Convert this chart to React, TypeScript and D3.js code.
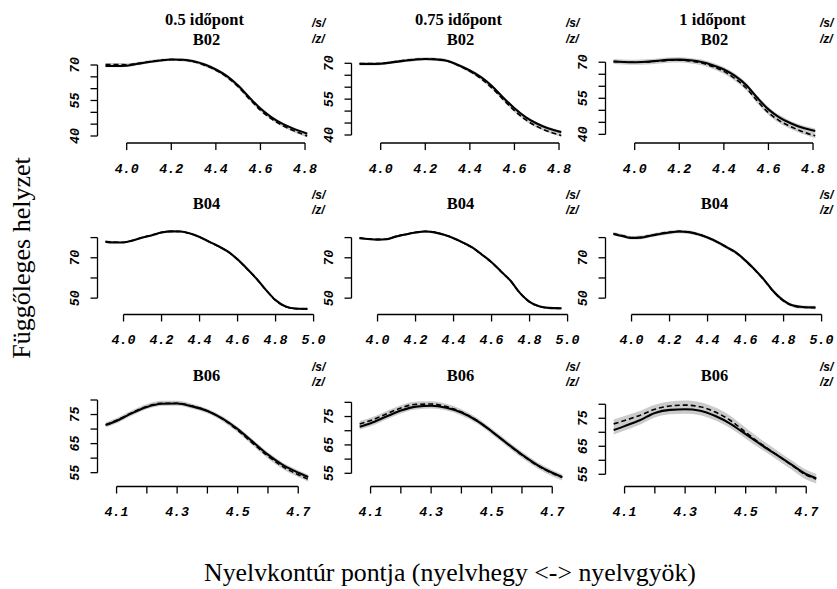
import React from 'react';
import * as d3 from 'd3';

// ---------- text ----------
const timeLabels = ['0.5 időpont', '0.75 időpont', '1 időpont'];
const speakerLabels = ['B02', 'B04', 'B06'];
const legendLabels = ['/s/', '/z/'];
const yTitle = 'Függőleges helyzet';
const xTitle = 'Nyelvkontúr pontja (nyelvhegy <-> nyelvgyök)';

// ---------- B02 ----------
const xB02 = [3.905, 3.95, 4.0, 4.05, 4.1, 4.15, 4.2, 4.25, 4.3, 4.35, 4.4, 4.45, 4.5, 4.55, 4.6, 4.65, 4.7, 4.75, 4.81];
const sB02_05 = [69.6, 69.6, 69.7, 70.5, 71.3, 71.9, 72.3, 72.2, 71.6, 70.2, 68.1, 65.3, 61.3, 56.3, 51.6, 47.9, 45.1, 43.0, 41.0];
const zB02_05 = [70.2, 70.2, 70.1, 70.7, 71.4, 72.0, 72.3, 72.1, 71.4, 69.9, 67.8, 64.9, 60.8, 55.7, 50.9, 47.2, 44.4, 42.2, 40.0];
const sB02_075 = [69.7, 69.7, 69.8, 70.4, 71.0, 71.5, 71.8, 71.6, 71.0, 69.2, 67.0, 64.2, 60.4, 55.6, 51.2, 47.5, 44.8, 42.8, 41.2];
const zB02_075 = [69.9, 69.9, 69.9, 70.5, 71.1, 71.6, 71.9, 71.7, 71.0, 69.0, 66.6, 63.6, 59.6, 54.8, 50.2, 46.4, 43.6, 41.6, 39.8];
const sB02_1 = [70.3, 70.1, 70.0, 70.2, 70.6, 71.0, 71.1, 70.8, 70.1, 68.8, 67.0, 64.3, 60.5, 55.2, 50.4, 47.0, 44.6, 42.8, 41.4];
const zB02_1 = [70.3, 70.1, 70.0, 70.1, 70.4, 70.8, 70.9, 70.5, 69.7, 68.2, 66.2, 63.2, 59.3, 53.9, 49.0, 45.6, 43.2, 41.2, 39.4];

// ---------- B04 ----------
const xB04 = [3.905, 3.95, 4.0, 4.05, 4.1, 4.15, 4.2, 4.25, 4.3, 4.35, 4.4, 4.45, 4.5, 4.55, 4.6, 4.65, 4.7, 4.75, 4.8, 4.85, 4.9, 4.968];
const sB04_05 = [77.9, 77.6, 77.6, 78.6, 80.0, 81.2, 82.5, 83.1, 83.0, 82.0, 80.3, 78.0, 75.7, 73.0, 69.2, 64.6, 59.6, 54.0, 49.0, 46.0, 44.9, 44.7];
const zB04_05 = [78.1, 77.8, 77.7, 78.7, 80.1, 81.3, 82.6, 83.1, 83.0, 82.0, 80.3, 77.9, 75.6, 72.9, 69.1, 64.5, 59.5, 53.9, 48.9, 45.9, 44.9, 44.7];
const sB04_075 = [79.7, 79.3, 79.0, 79.2, 80.6, 81.6, 82.5, 83.0, 82.6, 81.4, 79.7, 77.5, 75.0, 71.5, 67.8, 63.2, 58.6, 52.5, 48.2, 46.0, 45.2, 45.0];
const zB04_075 = [79.9, 79.4, 79.1, 79.3, 80.7, 81.7, 82.6, 83.1, 82.7, 81.4, 79.7, 77.4, 74.9, 71.4, 67.7, 63.1, 58.5, 52.4, 48.1, 45.9, 45.1, 44.9];
const sB04_1 = [81.8, 80.8, 79.8, 80.0, 80.9, 81.8, 82.5, 83.0, 82.7, 81.6, 80.0, 77.9, 75.3, 72.6, 68.6, 64.0, 58.8, 53.0, 48.8, 46.3, 45.6, 45.4];
const zB04_1 = [82.0, 81.0, 80.0, 80.2, 81.1, 82.0, 82.7, 83.1, 82.8, 81.7, 80.0, 77.8, 75.2, 72.4, 68.4, 63.8, 58.6, 52.8, 48.6, 46.2, 45.5, 45.3];

// ---------- B06 ----------
const xB06 = [4.064, 4.1, 4.15, 4.2, 4.25, 4.3, 4.35, 4.4, 4.45, 4.5, 4.55, 4.6, 4.65, 4.7, 4.733];
const sB06_05 = [71.4, 72.8, 75.4, 77.6, 78.7, 78.8, 77.8, 76.2, 73.6, 70.0, 65.6, 61.2, 57.6, 55.0, 53.5];
const zB06_05 = [71.5, 73.0, 75.6, 77.8, 78.9, 78.9, 77.9, 76.2, 73.4, 69.6, 65.1, 60.7, 57.0, 54.3, 52.7];
const sB06_075 = [71.4, 72.6, 74.9, 77.1, 78.5, 78.8, 78.1, 76.4, 73.6, 69.8, 65.6, 61.6, 58.0, 55.2, 53.7];
const zB06_075 = [72.4, 73.6, 75.8, 78.0, 79.3, 79.4, 78.5, 76.6, 73.7, 69.8, 65.5, 61.4, 57.8, 55.0, 53.5];
const sB06_1 = [70.8, 72.2, 74.3, 76.9, 78.0, 78.2, 77.7, 75.8, 73.0, 69.3, 65.6, 62.1, 58.5, 55.0, 53.6];
const zB06_1 = [73.0, 74.2, 76.0, 78.2, 79.4, 79.7, 79.1, 77.2, 74.2, 70.0, 65.9, 62.2, 58.4, 54.7, 53.3];

// confidence band half-widths per time point
const bandB02 = [0.6, 0.6, 1.0];
const bandB04 = [0.4, 0.4, 0.8];
const bandB06 = [0.8, 1.0, 1.6];

// axis limits
const xlimB02 = [3.869, 4.847];
const xlimB04 = [3.863, 5.01];
const xlimB06 = [4.037, 4.757];
const ylimB02 = [[37.04, 73.8], [36.65, 73.05], [36.4, 72.6]];
const ylimB04 = [[41.9, 85.0], [41.9, 85.0], [41.9, 85.0]];
const ylimB06 = [[50.25, 80.17], [50.35, 81.0], [50.64, 81.7]];

// ticks
const xTicksB02 = [4.0, 4.2, 4.4, 4.6, 4.8];
const xLabelsB02 = [4.0, 4.2, 4.4, 4.6, 4.8];
const xTicksB04 = [4.0, 4.2, 4.4, 4.6, 4.8, 5.0];
const xLabelsB04 = [4.0, 4.2, 4.4, 4.6, 4.8, 5.0];
const xTicksB06 = [4.1, 4.2, 4.3, 4.4, 4.5, 4.6, 4.7];
const xLabelsB06 = [4.1, 4.3, 4.5, 4.7];
const yTicksB02 = [40, 45, 50, 55, 60, 65, 70];
const yLabelsB02 = [40, 55, 70];
const yTicksB04 = [50, 60, 70, 80];
const yLabelsB04 = [50, 70];
const yTicksB06 = [55, 60, 65, 70, 75, 80];
const yLabelsB06 = [55, 65, 75];

// ---------- layout ----------
const W = 837;
const H = 589;
const colLeft = [97.5, 351.5, 605.5];
const plotW = 218;
const rowBottom = [143, 314.5, 486.5];
const plotH = 87;

const rows = [
  { x: xB02, s: [sB02_05, sB02_075, sB02_1], z: [zB02_05, zB02_075, zB02_1], band: bandB02, xlim: xlimB02, ylim: ylimB02, xt: xTicksB02, xl: xLabelsB02, yt: yTicksB02, yl: yLabelsB02 },
  { x: xB04, s: [sB04_05, sB04_075, sB04_1], z: [zB04_05, zB04_075, zB04_1], band: bandB04, xlim: xlimB04, ylim: ylimB04, xt: xTicksB04, xl: xLabelsB04, yt: yTicksB04, yl: yLabelsB04 },
  { x: xB06, s: [sB06_05, sB06_075, sB06_1], z: [zB06_05, zB06_075, zB06_1], band: bandB06, xlim: xlimB06, ylim: ylimB06, xt: xTicksB06, xl: xLabelsB06, yt: yTicksB06, yl: yLabelsB06 },
];

const tickFont = '"Liberation Mono", "DejaVu Sans Mono", monospace';
const serif = '"Liberation Serif", "Times New Roman", serif';
const sans = '"Liberation Sans", Arial, sans-serif';

function Panel({ r, c }: { r: number; c: number }) {
  const row = rows[r];
  const left = colLeft[c];
  const right = left + plotW;
  const bottom = rowBottom[r];
  const top = bottom - plotH;
  const xs = d3.scaleLinear().domain(row.xlim).range([left, right]);
  const ys = d3.scaleLinear().domain(row.ylim[c]).range([bottom, top]);
  const s = row.s[c];
  const z = row.z[c];
  const w = row.band[c];
  const idx = d3.range(row.x.length);
  const area = d3
    .area<number>()
    .x((i) => xs(row.x[i]))
    .y0((i) => ys(Math.min(s[i], z[i]) - w))
    .y1((i) => ys(Math.max(s[i], z[i]) + w))
    .curve(d3.curveMonotoneX);
  const line = (arr: number[]) =>
    d3
      .line<number>()
      .x((i) => xs(row.x[i]))
      .y((i) => ys(arr[i]))
      .curve(d3.curveMonotoneX)(idx) as string;
  const cx = (left + right) / 2;
  const fmt = d3.format('.1f');
  const tl = 7;
  return (
    <g>
      <path d={area(idx) as string} fill="#cbcbcb" />
      <path d={line(z)} fill="none" stroke="#000" strokeWidth={1.6} strokeDasharray="5,3" />
      <path d={line(s)} fill="none" stroke="#000" strokeWidth={2.1} />
      {/* y axis */}
      <line x1={left} x2={left} y1={ys(row.yt[0])} y2={ys(row.yt[row.yt.length - 1])} stroke="#000" strokeWidth={1.3} />
      {row.yt.map((t) => (
        <line key={'yt' + t} x1={left - tl} x2={left} y1={ys(t)} y2={ys(t)} stroke="#000" strokeWidth={1.3} />
      ))}
      {row.yl.map((t) => (
        <text
          key={'yl' + t}
          transform={`translate(${left - 18.5},${ys(t)}) rotate(-90)`}
          textAnchor="middle"
          fontFamily={tickFont}
          fontWeight="bold"
          fontStyle="italic"
          fontSize={13.3}
        >
          {t}
        </text>
      ))}
      {/* x axis */}
      <line x1={xs(row.xt[0])} x2={xs(row.xt[row.xt.length - 1])} y1={bottom} y2={bottom} stroke="#000" strokeWidth={1.3} />
      {row.xt.map((t) => (
        <line key={'xt' + t} x1={xs(t)} x2={xs(t)} y1={bottom} y2={bottom + tl} stroke="#000" strokeWidth={1.3} />
      ))}
      {row.xl.map((t) => (
        <text
          key={'xl' + t}
          x={xs(t)}
          y={bottom + 29.5}
          textAnchor="middle"
          fontFamily={tickFont}
          fontWeight="bold"
          fontStyle="italic"
          fontSize={13.3}
        >
          {fmt(t)}
        </text>
      ))}
      {/* title */}
      {r === 0 ? (
        <g fontFamily={serif} fontWeight="bold" fontSize={16.5} textAnchor="middle">
          <text x={cx - 2} y={top - 31}>{timeLabels[c]}</text>
          <text x={cx} y={top - 11.5}>{speakerLabels[r]}</text>
        </g>
      ) : (
        <text x={cx} y={top - 19} fontFamily={serif} fontWeight="bold" fontSize={16.5} textAnchor="middle">
          {speakerLabels[r]}
        </text>
      )}
      {/* legend */}
      <g fontFamily={sans} fontWeight="bold" fontStyle="italic" fontSize={12}>
        <text x={right - 3.5} y={top - 29}>{legendLabels[0]}</text>
        <text x={right - 3.5} y={top - 13.5}>{legendLabels[1]}</text>
      </g>
    </g>
  );
}

export default function App() {
  React.useEffect(() => {
    document.body.style.margin = '0';
  }, []);
  return (
    <svg
      width={W}
      height={H}
      viewBox={`0 0 ${W} ${H}`}
      style={{ position: 'absolute', left: 0, top: 0, background: '#fff', display: 'block' }}
    >
      <rect x={0} y={0} width={W} height={H} fill="#fff" />
      {[0, 1, 2].map((r) => [0, 1, 2].map((c) => <Panel key={`${r}-${c}`} r={r} c={c} />))}
      <text x={450} y={581} textAnchor="middle" fontFamily={serif} fontSize={25.8}>
        {xTitle}
      </text>
      <text transform="translate(30,258) rotate(-90)" textAnchor="middle" fontFamily={serif} fontSize={26}>
        {yTitle}
      </text>
    </svg>
  );
}
